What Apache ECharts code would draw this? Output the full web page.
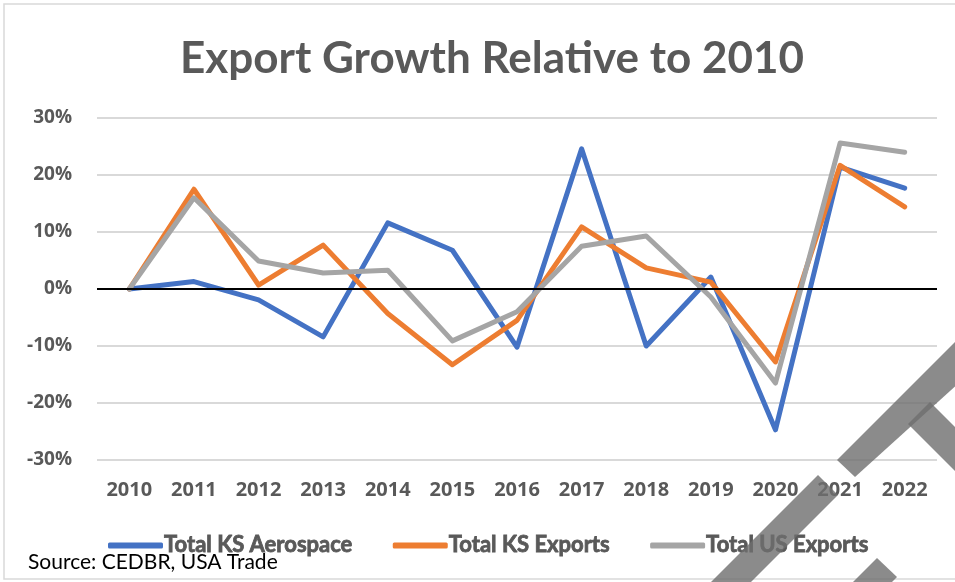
<!DOCTYPE html>
<html>
<head>
<meta charset="utf-8">
<title>Export Growth Relative to 2010</title>
<script src="https://cdn.jsdelivr.net/npm/echarts@6/dist/echarts.min.js"></script>
<style>
  html, body { margin: 0; padding: 0; background: #fff; }
  #main { width: 955px; height: 582px; }
</style>
</head>
<body>
<div id="main"></div>
<script>
// years on the x axis
var years = ['2010', '2011', '2012', '2013', '2014', '2015', '2016',
             '2017', '2018', '2019', '2020', '2021', '2022'];

// growth vs 2010, as fractions
var ksAerospace = [0, 0.013, -0.019, -0.084, 0.116, 0.068, -0.102,
                   0.246, -0.100, 0.021, -0.247, 0.214, 0.177];
var ksExports = [0, 0.175, 0.007, 0.077, -0.043, -0.133, -0.055,
                 0.109, 0.037, 0.012, -0.128, 0.217, 0.144];
var usExports = [0, 0.160, 0.049, 0.028, 0.033, -0.091, -0.040,
                 0.075, 0.093, -0.014, -0.165, 0.256, 0.240];

var seriesNames = ['Total KS Aerospace', 'Total KS Exports', 'Total US Exports'];
var colors = ['#4472C4', '#ED7D31', '#A5A5A5'];

var textFont = 'Lato, "Noto Sans", sans-serif';
var axisFont = '"Open Sans", "Noto Sans", sans-serif';

var myChart = echarts.init(document.getElementById('main'));

function lineSeries(name, data, color) {
    return {
        name: name,
        type: 'line',
        data: data,
        symbol: 'none',
        smooth: false,
        lineStyle: { width: 5, color: color, join: 'round', cap: 'round' },
        itemStyle: { color: color }
    };
}

var series = [
    lineSeries(seriesNames[0], ksAerospace, colors[0]),
    lineSeries(seriesNames[1], ksExports, colors[1]),
    lineSeries(seriesNames[2], usExports, colors[2])
];
// black zero line across the plot
series[0].markLine = {
    silent: true,
    symbol: 'none',
    label: { show: false },
    lineStyle: { color: '#000', width: 2, type: 'solid' },
    data: [{ yAxis: 0 }]
};

// watermark shapes in the lower right
var shade = 'rgba(110,110,110,0.8)';
var watermark = [
    [[837, 460], [960, 337], [960, 382], [855, 477]],
    [[908, 424], [930, 402], [960, 432], [960, 476]],
    [[818, 475], [838, 495], [751, 582], [711, 582]],
    [[877, 558], [897, 577], [892, 582], [853, 582]]
].map(function (pts) {
    return { type: 'polygon', z: 100, silent: true,
             shape: { points: pts }, style: { fill: shade } };
});

var option = {
    backgroundColor: '#fff',
    animation: false,
    title: {
        text: 'Export Growth Relative to 2010',
        left: 175,
        top: 32,
        textStyle: { fontFamily: textFont, fontSize: 44, fontWeight: 'bold', color: '#595959' }
    },
    legend: {
        data: seriesNames,
        top: 529,
        left: 103,
        itemGap: 40,
        itemWidth: 55,
        itemHeight: 6,
        icon: 'roundRect',
        textStyle: {
            fontFamily: textFont, fontSize: 22, fontWeight: 'bold', color: '#595959',
            textBorderColor: '#595959', textBorderWidth: 0.8,
            padding: [0, 0, 0, -4]
        }
    },
    grid: { left: 97, right: 18, top: 118, bottom: 122 },
    xAxis: {
        type: 'category',
        data: years,
        boundaryGap: true,
        axisLine: { show: false, onZero: false },
        axisTick: { show: false },
        axisLabel: { margin: 20, fontFamily: axisFont, fontSize: 20, fontWeight: 'bold', color: '#595959' }
    },
    yAxis: {
        type: 'value',
        min: -0.3,
        max: 0.3,
        interval: 0.1,
        axisLine: { show: false },
        axisTick: { show: false },
        splitLine: { lineStyle: { color: '#d9d9d9', width: 2 } },
        axisLabel: {
            margin: 25,
            fontFamily: axisFont, fontSize: 19, fontWeight: 'bold', color: '#595959',
            formatter: function (v) { return Math.round(v * 100) + '%'; }
        }
    },
    graphic: [
        { type: 'rect', silent: true, z: -1,
          shape: { x: 4, y: 4, width: 960, height: 575 },
          style: { fill: 'none', stroke: '#d9d9d9', lineWidth: 1.5 } },
        { type: 'text', left: 28, top: 552, silent: true,
          style: { text: 'Source: CEDBR, USA Trade', font: '21px ' + textFont, fill: '#000' } }
    ].concat(watermark),
    series: series
};

myChart.setOption(option);
</script>
</body>
</html>
